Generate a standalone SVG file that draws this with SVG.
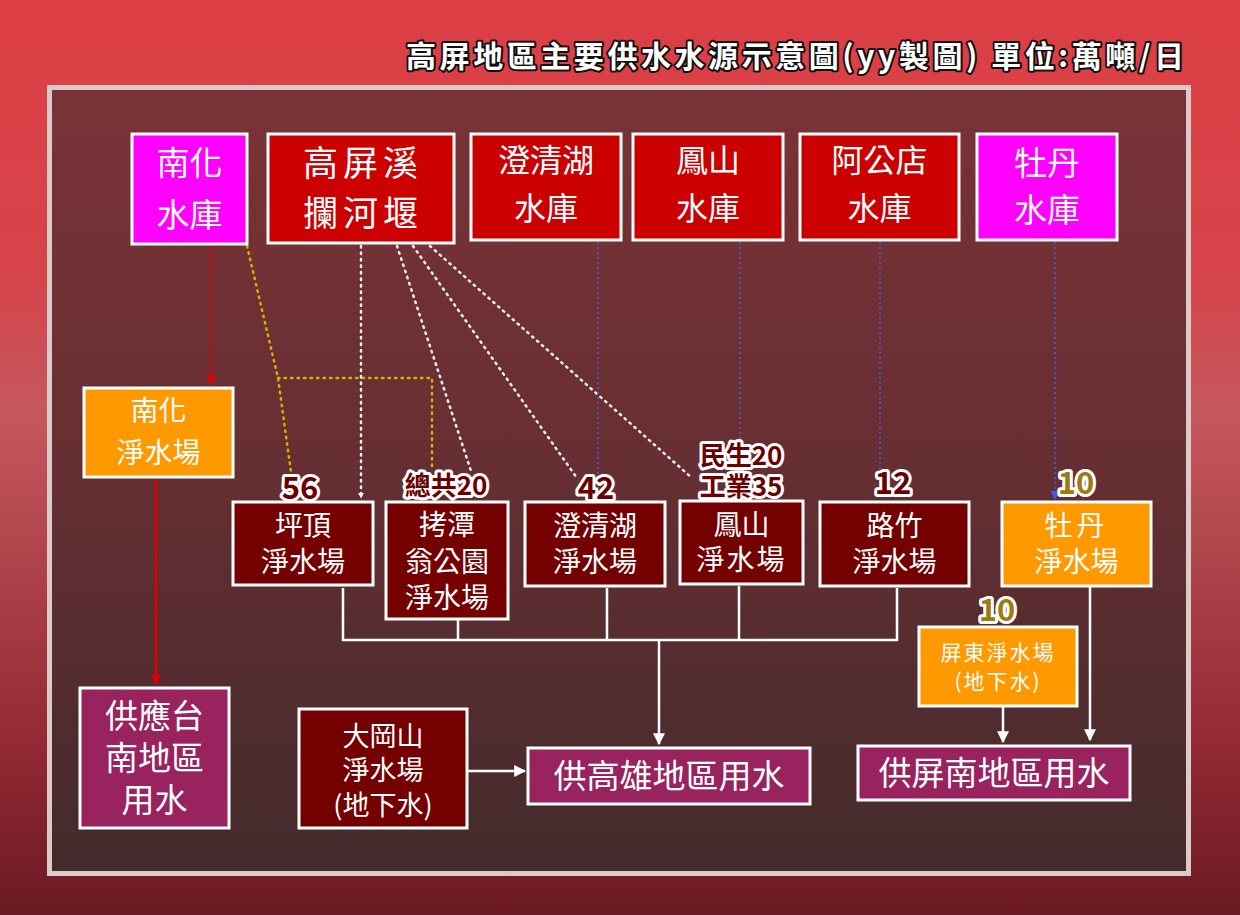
<svg xmlns="http://www.w3.org/2000/svg" width="1240" height="915" viewBox="0 0 1240 915">
<defs>
<linearGradient id="bg" x1="0" y1="0" x2="0" y2="1">
<stop offset="0" stop-color="#dc3f45"/>
<stop offset="0.3" stop-color="#d6434a"/>
<stop offset="0.45" stop-color="#c5585d"/>
<stop offset="0.6" stop-color="#b0454c"/>
<stop offset="0.8" stop-color="#962a35"/>
<stop offset="1" stop-color="#6a1a22"/>
</linearGradient>
<linearGradient id="panel" x1="0" y1="0" x2="0" y2="1">
<stop offset="0" stop-color="#793337"/>
<stop offset="0.45" stop-color="#682f33"/>
<stop offset="1" stop-color="#432a2c"/>
</linearGradient>
<marker id="aw" viewBox="0 0 10 10" refX="9" refY="5" markerWidth="6" markerHeight="6" orient="auto" markerUnits="userSpaceOnUse"><path d="M0,0 L10,5 L0,10 z" fill="#ffffff"/></marker>
<marker id="awb" viewBox="0 0 10 10" refX="9" refY="5" markerWidth="12" markerHeight="12" orient="auto" markerUnits="userSpaceOnUse"><path d="M0,0 L10,5 L0,10 z" fill="#ffffff"/></marker>
<marker id="ar" viewBox="0 0 10 10" refX="9" refY="5" markerWidth="10" markerHeight="10" orient="auto" markerUnits="userSpaceOnUse"><path d="M0,0 L10,5 L0,10 z" fill="#e00000"/></marker>
<marker id="ab" viewBox="0 0 10 10" refX="9" refY="5" markerWidth="9" markerHeight="9" orient="auto" markerUnits="userSpaceOnUse"><path d="M0,0 L10,5 L0,10 z" fill="#3a5cff"/></marker>
</defs>
<style>
.t{font-family:"Noto Sans CJK TC","Noto Sans CJK SC",sans-serif;fill:#ffffff;text-anchor:middle}
.box{stroke:#ffffff;stroke-width:3}
.mag{fill:#ff00ff}
.red{fill:#cc0000}
.dk{fill:#750000}
.org{fill:#ff9900}
.pur{fill:#98235f}
.num{font-family:"Noto Sans CJK TC","Noto Sans CJK SC",sans-serif;font-weight:bold;text-anchor:middle;stroke:#ffffff;stroke-width:6;paint-order:stroke;stroke-linejoin:round}
.nd{fill:#6a0000}
.ng{fill:#a07a10}
.dotw{fill:none;stroke:#f0f0f0;stroke-width:2.5;stroke-dasharray:1.5 5;stroke-linecap:round}
.doty{fill:none;stroke:#d4b000;stroke-width:2.5;stroke-dasharray:1.5 5;stroke-linecap:round}
.dotr{fill:none;stroke:#e00000;stroke-width:2.5;stroke-dasharray:2 2}
.dotb{fill:none;stroke:#4a5cf0;stroke-width:1.5;stroke-dasharray:2 3}
.solw{fill:none;stroke:#ffffff;stroke-width:2.5}
</style>
<rect x="0" y="0" width="1240" height="915" fill="url(#bg)"/>
<rect x="49.500" y="87.500" width="1139" height="786" fill="url(#panel)" stroke="#dccaca" stroke-width="5"/>
<text x="795" y="67" font-family="Noto Sans CJK TC,Noto Sans CJK SC,sans-serif" font-size="30" font-weight="bold" fill="#ffffff" stroke="#111111" stroke-width="4" paint-order="stroke" stroke-linejoin="round" text-anchor="middle" textLength="778" lengthAdjust="spacing">高屏地區主要供水水源示意圖(yy製圖) 單位:萬噸/日</text>

<g id="connectors">
<path class="dotr" d="M211,246 V384" marker-end="url(#ar)"/>
<path d="M156,480 V684" fill="none" stroke="#e00000" stroke-width="2.5" marker-end="url(#ar)"/>
<path class="doty" d="M247,246 L278,378 L291,472"/>
<path class="doty" d="M278,378 H432 V470"/>
<path class="dotw" d="M361,246 V498" marker-end="url(#aw)"/>
<path class="dotw" d="M397,246 L472,474"/>
<path class="dotw" d="M413,246 L577,478"/>
<path class="dotw" d="M430,246 L692,478"/>
<path class="dotb" d="M598,242 V490"/>
<path class="dotb" d="M740,242 V452"/>
<path class="dotb" d="M880,242 V497" marker-end="url(#ab)"/>
<path class="dotb" d="M1055,242 V499" marker-end="url(#ab)"/>
<path class="solw" d="M343,588 V640 H897 V588 M458,620 V640 M607,588 V640 M739,586 V640"/>
<path class="solw" d="M659,640 V744" marker-end="url(#awb)"/>
<path class="solw" d="M467,771 H525" marker-end="url(#awb)"/>
<path class="solw" d="M1003,707 V742" marker-end="url(#awb)"/>
<path class="solw" d="M1090,587 V740" marker-end="url(#awb)"/>
</g>

<g id="n-nanhua-res"><rect class="box mag" x="132" y="134" width="115" height="110"/><text class="t" x="189.500" y="175" font-size="33">南化</text><text class="t" x="189.500" y="227" font-size="33">水庫</text></g>
<g id="n-gaoping-weir"><rect class="box red" x="268" y="134" width="186" height="109"/><text class="t" x="363" y="176" font-size="35" letter-spacing="5">高屏溪</text><text class="t" x="363" y="226" font-size="35" letter-spacing="5">攔河堰</text></g>
<g id="n-chengching-res"><rect class="box red" x="471" y="134" width="150" height="106"/><text class="t" x="546" y="172" font-size="32">澄清湖</text><text class="t" x="546" y="220" font-size="32">水庫</text></g>
<g id="n-fengshan-res"><rect class="box red" x="633" y="134" width="150" height="106"/><text class="t" x="708" y="172" font-size="32">鳳山</text><text class="t" x="708" y="220" font-size="32">水庫</text></g>
<g id="n-agongdian-res"><rect class="box red" x="800" y="134" width="159" height="106"/><text class="t" x="879.500" y="172" font-size="32">阿公店</text><text class="t" x="879.500" y="220" font-size="32">水庫</text></g>
<g id="n-mudan-res"><rect class="box mag" x="977" y="134" width="140" height="106"/><text class="t" x="1047" y="175" font-size="33">牡丹</text><text class="t" x="1047" y="222" font-size="33">水庫</text></g>

<g id="n-nanhua-plant"><rect class="box org" x="84" y="388" width="149" height="89"/><text class="t" x="158.500" y="421" font-size="28">南化</text><text class="t" x="158.500" y="463" font-size="28">淨水場</text></g>
<g id="n-pingding"><rect class="box dk" x="233" y="502" width="140" height="83"/><text class="t" x="303" y="536" font-size="28">坪頂</text><text class="t" x="303" y="572" font-size="28">淨水場</text></g>
<g id="n-kaotan"><rect class="box dk" x="386" y="502" width="122" height="117"/><text class="t" x="447" y="535" font-size="28">拷潭</text><text class="t" x="447" y="572" font-size="28">翁公園</text><text class="t" x="447" y="608" font-size="28">淨水場</text></g>
<g id="n-chengching-plant"><rect class="box dk" x="525" y="502" width="140" height="84"/><text class="t" x="595" y="536" font-size="28">澄清湖</text><text class="t" x="595" y="572" font-size="28">淨水場</text></g>
<g id="n-fengshan-plant"><rect class="box dk" x="680" y="501" width="123" height="83"/><text class="t" x="741.500" y="535" font-size="28">鳳山</text><text class="t" x="741.500" y="570" font-size="28" letter-spacing="2">淨水場</text></g>
<g id="n-luzhu"><rect class="box dk" x="820" y="502" width="149" height="84"/><text class="t" x="894.500" y="536" font-size="28">路竹</text><text class="t" x="894.500" y="572" font-size="28">淨水場</text></g>
<g id="n-mudan-plant"><rect class="box org" x="1002" y="502" width="149" height="84"/><text class="t" x="1076.500" y="536" font-size="28" letter-spacing="4">牡丹</text><text class="t" x="1076.500" y="572" font-size="28">淨水場</text></g>
<g id="n-pingtung-plant"><rect class="box org" x="919" y="627" width="158" height="79"/><text class="t" x="998" y="660" font-size="21" letter-spacing="2">屏東淨水場</text><text class="t" x="998" y="689" font-size="21" letter-spacing="2">(地下水)</text></g>

<g id="n-tainan"><rect class="box pur" x="80" y="688" width="149" height="140"/><text class="t" x="154.500" y="728" font-size="33">供應台</text><text class="t" x="154.500" y="770" font-size="33">南地區</text><text class="t" x="154.500" y="812" font-size="33">用水</text></g>
<g id="n-dagangshan"><rect class="box dk" x="299" y="709" width="168" height="119"/><text class="t" x="383" y="746" font-size="27">大岡山</text><text class="t" x="383" y="780" font-size="27">淨水場</text><text class="t" x="383" y="815" font-size="27">(地下水)</text></g>
<g id="n-kaohsiung"><rect class="box pur" x="528" y="748" width="282" height="56"/><text class="t" x="669" y="788" font-size="33">供高雄地區用水</text></g>
<g id="n-pingnan"><rect class="box pur" x="858" y="746" width="272" height="54"/><text class="t" x="994" y="785" font-size="33">供屏南地區用水</text></g>

<g id="labels">
<text class="num nd" x="300" y="499" font-size="31">56</text>
<text class="num nd" x="446" y="495" font-size="26">總共20</text>
<text class="num nd" x="596" y="499" font-size="31">42</text>
<text class="num nd" x="741" y="465" font-size="26">民生20</text>
<text class="num nd" x="741" y="496" font-size="26">工業35</text>
<text class="num nd" x="893" y="494" font-size="31">12</text>
<text class="num ng" x="1076" y="494" font-size="31">10</text>
<text class="num ng" x="997" y="621" font-size="31">10</text>
</g>
</svg>
